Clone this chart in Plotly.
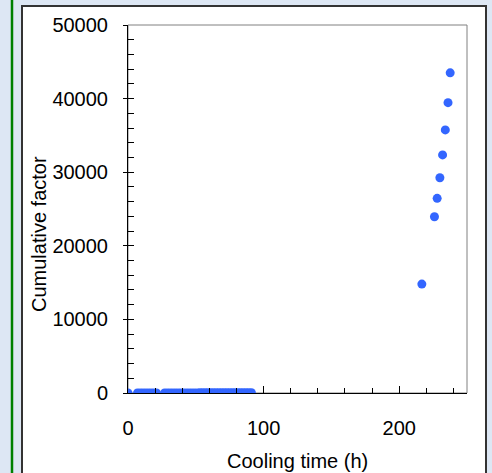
import plotly.graph_objects as go

# Cooling time (h) and cumulative factor, early and late measurement sets
early_hours = [0, 7, 9, 11, 13, 15, 17, 19, 21,
               27, 29, 31, 33, 35, 37, 39, 41, 43, 45, 47, 49, 51, 53, 55,
               57, 59, 61, 63, 65, 67, 69, 71, 73, 75, 77, 79, 81, 83, 85,
               87, 89, 91]
early_factor = [1, 2, 2, 3, 3, 4, 4, 5, 5,
                6, 7, 7, 8, 9, 9, 10, 11, 12, 13, 14, 15, 16, 17, 18,
                19, 20, 21, 23, 24, 25, 27, 28, 30, 31, 33, 35, 36, 38, 40,
                42, 44, 46]
late_hours = [216.7, 226, 228, 230, 232, 234, 236, 237.6]
late_factor = [14800, 23950, 26450, 29250, 32350, 35750, 39450, 43500]

x_ticks = [0, 100, 200]
y_ticks = [0, 10000, 20000, 30000, 40000, 50000]

hours = early_hours + late_hours
factor = early_factor + late_factor

W, H = 492, 473
L, R, T, B = 128, 25, 25, 80
pw, ph = W - L - R, H - T - B


def px_x(p):
    return (p - L) / pw


def px_y(p):
    return (H - B - p) / ph


font = dict(family="Liberation Sans, Arial, sans-serif", size=20, color="black")

fig = go.Figure()
fig.add_trace(go.Scatter(
    x=hours, y=factor, mode="markers",
    marker=dict(color="#3366ff", size=9, line=dict(width=0)),
    showlegend=False, hoverinfo="x+y",
))
# companion axis carrying the inward tick marks of the value axis
fig.add_trace(go.Scatter(x=[None], y=[None], yaxis="y2", showlegend=False))

fig.update_layout(
    width=W, height=H,
    margin=dict(l=L, r=R, t=T, b=B),
    paper_bgcolor="#dde7f4",
    plot_bgcolor="white",
    font=font,
    xaxis=dict(
        range=[0, 250], tickvals=x_ticks, ticktext=[str(v) for v in x_ticks],
        showgrid=False, zeroline=False, showline=True, linecolor="black",
        linewidth=1, ticks="inside", ticklen=7, tickcolor="black",
        minor=dict(dtick=20, tick0=0, ticks="inside", ticklen=5,
                   tickcolor="black", showgrid=False),
        ticklabelstandoff=17,
        tickfont=font,
    ),
    yaxis=dict(
        range=[0, 50000], tickvals=y_ticks, ticktext=[str(v) for v in y_ticks],
        showgrid=False, zeroline=False, showline=True, linecolor="black",
        linewidth=1, ticks="outside", ticklen=4, tickcolor="black",
        ticklabelstandoff=11,
        tickfont=font,
    ),
    yaxis2=dict(
        range=[0, 50000], overlaying="y", side="left", dtick=2000, tick0=0,
        showgrid=False, zeroline=False, showline=False, showticklabels=False,
        ticks="inside", ticklen=6, tickcolor="black",
    ),
    shapes=[
        # white card behind the chart
        dict(type="rect", xref="paper", yref="paper", layer="below",
             x0=px_x(22), x1=px_x(486), y0=px_y(490), y1=px_y(6),
             fillcolor="white", line=dict(color="#333333", width=2)),
        # green rule at the left edge
        dict(type="line", xref="paper", yref="paper", layer="below",
             x0=px_x(12), x1=px_x(12), y0=px_y(490), y1=px_y(-10),
             line=dict(color="#008000", width=2.5)),
        # grey plot frame
        dict(type="rect", xref="paper", yref="paper", layer="below",
             x0=0, x1=1, y0=0, y1=1, fillcolor="white",
             line=dict(color="#808080", width=1)),
    ],
    annotations=[
        dict(text="Cooling time (h)", xref="paper", yref="paper",
             x=0.5, y=px_y(461), showarrow=False, font=font,
             xanchor="center", yanchor="middle"),
        dict(text="Cumulative factor", xref="paper", yref="paper",
             x=px_x(39), y=px_y(234), showarrow=False, font=font,
             textangle=-90, xanchor="center", yanchor="middle"),
    ],
)

fig.write_html("out.html")
